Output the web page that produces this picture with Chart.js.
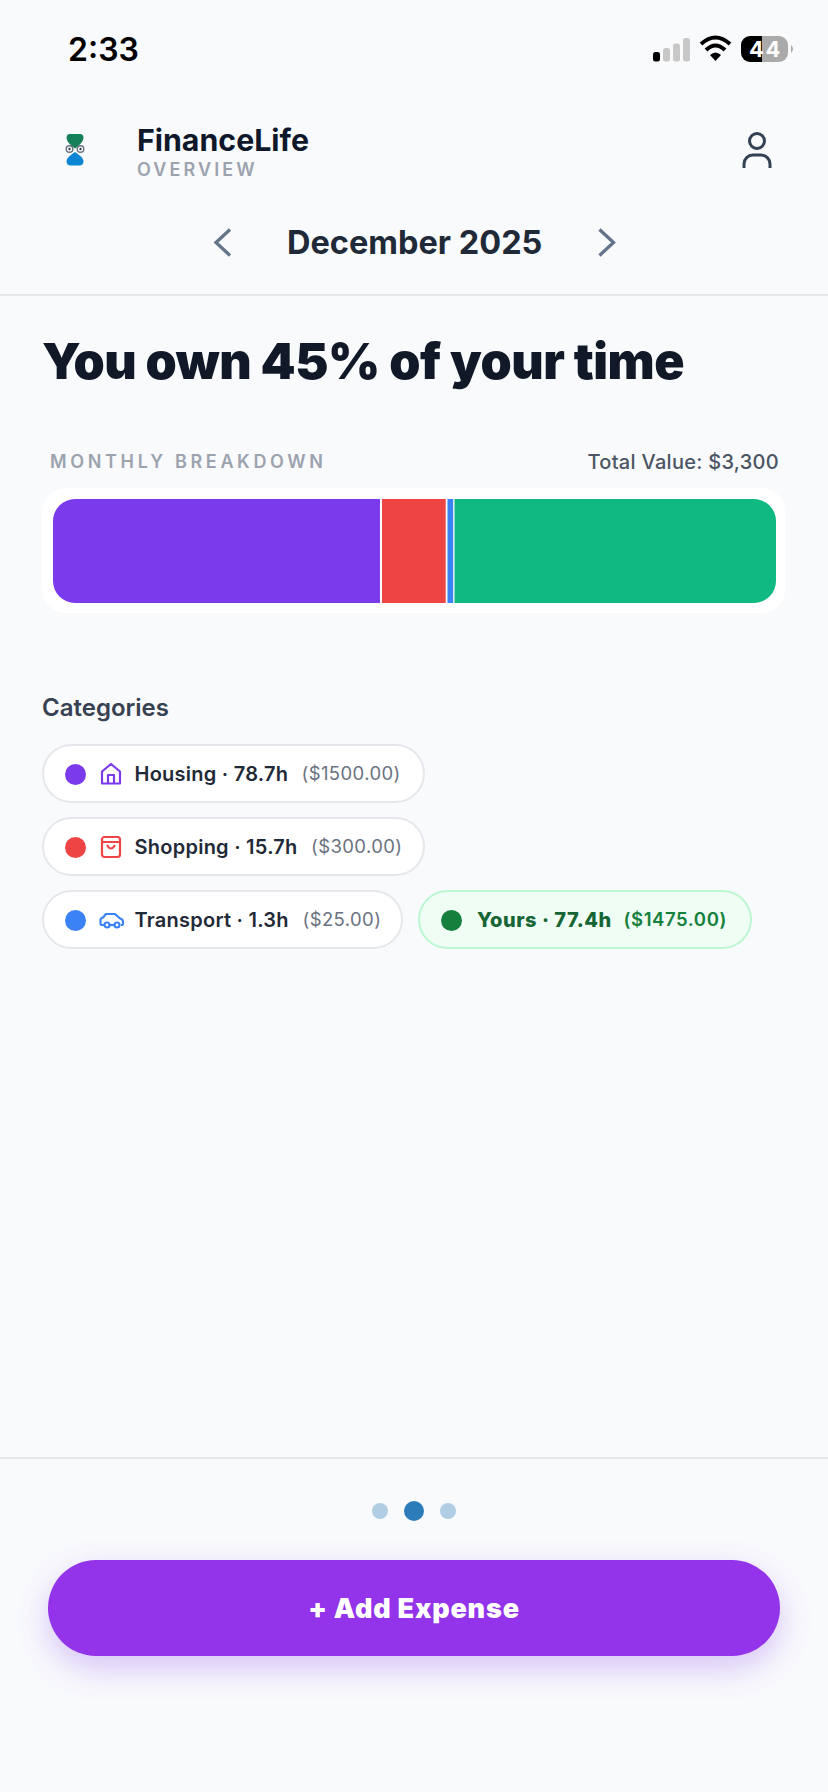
<!DOCTYPE html>
<html><head><meta charset="utf-8">
<script src="https://cdn.jsdelivr.net/npm/chart.js@4"></script>
<style>
html,body{margin:0;padding:0;background:#f9fafc;width:828px;height:1792px;overflow:hidden;font-family:Inter,sans-serif}
.t{position:absolute;white-space:nowrap;line-height:1}
.a{position:absolute}
svg{position:absolute;overflow:visible}
.pill{position:absolute;box-sizing:border-box;height:59px;border:2px solid #e5e7eb;border-radius:30px;background:#fff}
.pill.y{background:#f0fdf4;border-color:#bbf7d0}
.dot{position:absolute;border-radius:50%}
</style></head><body>
<!-- status bar -->
<div class="t" style="left:68px;top:34px;font-size:32px;font-weight:600;color:#000">2:33</div>
<svg style="left:0;top:0" width="828" height="100">
<rect x="653" y="52" width="7" height="9.500" rx="2.500" fill="#000"/>
<rect x="663" y="48" width="7" height="13.500" rx="2.500" fill="#c8c8c8"/>
<rect x="673" y="43.500" width="7" height="18" rx="2.500" fill="#c8c8c8"/>
<rect x="683" y="38" width="7" height="23.500" rx="2.500" fill="#c8c8c8"/>
<path d="M701 44 Q715.500 31 730 44" fill="none" stroke="#000" stroke-width="4"/>
<path d="M706 50 Q715.500 41 725 50" fill="none" stroke="#000" stroke-width="4"/>
<path d="M710 55 Q715.500 50 721 55 L715.500 61 Z" fill="#000"/>
<path d="M750 36H762V62H750A9 9 0 0 1 741 53V45A9 9 0 0 1 750 36Z" fill="#000"/>
<path d="M762 36H779A9 9 0 0 1 788 45V53A9 9 0 0 1 779 62H762Z" fill="#aaa"/>
<path d="M791 45A5 5 0 0 1 791 53Z" fill="#aaa"/>
</svg>
<div class="t" style="left:749px;top:38px;font-size:22px;font-weight:700;color:#fff;letter-spacing:1.500px">44</div>

<!-- header -->
<svg style="left:0;top:0" width="828" height="300">
<path d="M70 134H80Q83.500 134 83.500 138Q83 143 75 148.500Q67 143 66.500 138Q66.500 134 70 134Z" fill="#15805a"/>
<path d="M75 152Q83 157 83.500 161Q83.500 165.500 79 165.500H71Q66.500 165.500 66.500 161Q67 157 75 152Z" fill="#0b86d4"/>
<circle cx="69.500" cy="149" r="3.300" fill="none" stroke="#6b7280" stroke-width="1.400"/><circle cx="69.500" cy="149" r="1.200" fill="#374151"/>
<circle cx="80.500" cy="149" r="3.300" fill="none" stroke="#6b7280" stroke-width="1.400"/><circle cx="80.500" cy="149" r="1.200" fill="#374151"/>
<circle cx="757" cy="141" r="7.500" fill="none" stroke="#334155" stroke-width="3"/>
<path d="M744 168V164A9 9 0 0 1 753 155H761A9 9 0 0 1 770 164V168" fill="none" stroke="#334155" stroke-width="3"/>
<path d="M230 229.500L216 242.500L230 255.500" fill="none" stroke="#64748b" stroke-width="3.300"/>
<path d="M599.500 229.500L613.500 242.500L599.500 255.500" fill="none" stroke="#64748b" stroke-width="3.300"/>
</svg>
<div class="t" style="left:137px;top:125px;font-size:30.300px;font-weight:700;color:#0f172a">FinanceLife</div>
<div class="t" style="left:137px;top:161px;font-size:18px;font-weight:600;color:#9ca3af;letter-spacing:3.100px">OVERVIEW</div>
<div class="t" style="left:287px;top:226.500px;font-size:32.500px;font-weight:700;color:#1f2937">December 2025</div>
<div class="a" style="left:0;top:294px;width:828px;height:2px;background:#e5e7eb"></div>

<div class="t" style="left:42px;top:336px;font-size:50px;font-weight:900;color:#111827;letter-spacing:-.5px" id="title">You own 45% of your time</div>
<div class="t" style="left:50px;top:453px;font-size:18px;font-weight:600;color:#9ca3af;letter-spacing:3.650px">MONTHLY BREAKDOWN</div>
<div class="t" style="right:49px;top:451.500px;font-size:20px;font-weight:500;color:#4b5563;letter-spacing:.3px">Total Value: $3,300</div>

<!-- chart -->
<div class="a" style="left:42px;top:488px;width:743px;height:125px;background:#fff;border-radius:24px"></div>
<div class="a" style="left:53px;top:499px;width:723px;height:104px"><canvas id="c" width="723" height="104"></canvas></div>

<div class="t" style="left:42px;top:696px;font-size:24px;font-weight:600;color:#374151">Categories</div>
<div id="pills"></div>

<div class="a" style="left:0;top:1457px;width:828px;height:2px;background:#e5e7eb"></div>
<div class="dot" style="left:372px;top:1503px;width:16px;height:16px;background:#b0cde3"></div>
<div class="dot" style="left:404px;top:1501px;width:20px;height:20px;background:#2b7cb8"></div>
<div class="dot" style="left:440px;top:1503px;width:16px;height:16px;background:#b0cde3"></div>
<div class="a" style="left:48px;top:1560px;width:732px;height:96px;border-radius:48px;background:#9333ea;box-shadow:0 12px 32px rgba(124,58,237,.28)"></div>
<div class="t" style="left:48px;width:732px;text-align:center;top:1595px;font-size:27px;font-weight:900;color:#fff;letter-spacing:.8px">+ Add Expense</div>

<script>
const categories = ["Housing","Shopping","Transport","Yours"];
const amounts = [1500,300,25,1475];
const hours = [78.7,15.7,1.3,77.4];
const colors = ["#7c3aed","#ef4444","#3b82f6","#10b981"];
const dotColors = ["#7c3aed","#ef4444","#3b82f6","#15803d"];

const pillBoxes = [[42,744,383],[42,817,383],[42,890,361],[418,890,334]];
const pillLabelX = [134.500,134.500,134.500,477];
const pillAmountX = [301.500,311,302.500,623.500];
const icons = [
 '<path d="M2 20.500V8.500L11 1L20 8.500V20.500Z M8 20.500V12H14V20.500" fill="none" stroke="#7c3aed" stroke-width="2.200" stroke-linejoin="round"/>',
 '<rect x="2" y="1" width="18" height="20" rx="2.500" fill="none" stroke="#ef4444" stroke-width="2.200"/><path d="M2 6H20M7 9Q11 16 15 9" fill="none" stroke="#ef4444" stroke-width="2.200"/>',
 '<path d="M4 16H2Q0.500 16 0.500 14V11Q0.500 9 3 8.500L6 5H15L20 9.500Q23 10 23 13V15Q23 16 21 16" fill="none" stroke="#3b82f6" stroke-width="2.200" stroke-linejoin="round"/><path d="M10 16H14" stroke="#3b82f6" stroke-width="2.200"/><circle cx="7" cy="16" r="2.500" fill="none" stroke="#3b82f6" stroke-width="2.200"/><circle cx="17" cy="16" r="2.500" fill="none" stroke="#3b82f6" stroke-width="2.200"/>'
];
const pills = document.getElementById('pills');
categories.forEach((c,i)=>{
  const [x,y,w] = pillBoxes[i];
  const own = c === "Yours";
  const cy = y + 30;
  let h = `<div class="pill${own?' y':''}" style="left:${x}px;top:${y}px;width:${w}px"></div>`;
  h += `<div class="dot" style="left:${x+23}px;top:${cy-10.5}px;width:21px;height:21px;background:${dotColors[i]}"></div>`;
  if(icons[i]) h += `<svg style="left:100px;top:${cy-11}px" width="24" height="24">${icons[i]}</svg>`;
  h += `<div class="t" style="left:${pillLabelX[i]}px;top:${cy-10}px;font-size:20px;font-weight:${own?800:600};color:${own?'#166534':'#1f2937'};letter-spacing:${own?.5:.25}px">${c} · ${hours[i].toFixed(1)}h</div>`;
  h += `<div class="t" style="left:${pillAmountX[i]}px;top:${cy-10}px;font-size:18.500px;font-weight:${own?600:400};color:${own?'#15803d':'#6b7280'};letter-spacing:${own?.6:.4}px">($${amounts[i].toFixed(2)})</div>`;
  pills.insertAdjacentHTML('beforeend',h);
});

const gapRight = [2,2,0,0];
const gapLeft = [0,0,0,2];
new Chart(document.getElementById('c'),{
  type:'bar',
  data:{labels:["Monthly breakdown"],
    datasets:categories.map((c,i)=>({
      label:c,data:[amounts[i]],backgroundColor:colors[i],
      borderColor:'#ffffff',
      borderWidth:{left:gapLeft[i],right:gapRight[i],top:0,bottom:0},
      borderSkipped:false,
      borderRadius: i===0?{topLeft:22,bottomLeft:22,topRight:0,bottomRight:0}:
                    i===3?{topRight:22,bottomRight:22,topLeft:0,bottomLeft:0}:0,
      barPercentage:1,categoryPercentage:1
    }))},
  options:{indexAxis:'y',responsive:false,animation:false,
    layout:{padding:0},
    plugins:{legend:{display:false},tooltip:{enabled:false}},
    scales:{x:{stacked:true,display:false,min:0,max:3300},y:{stacked:true,display:false}}}
});
</script>
</body></html>
